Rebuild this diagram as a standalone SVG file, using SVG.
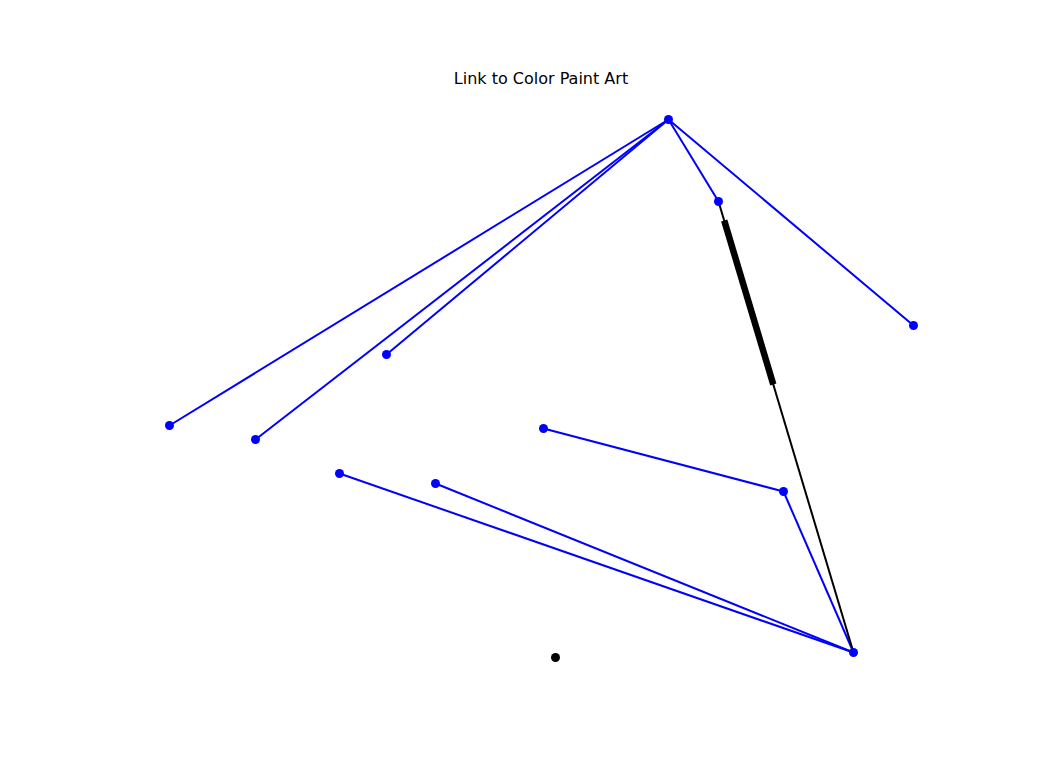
<svg xmlns="http://www.w3.org/2000/svg" width="1056" height="768" viewBox="0 0 1056 768">
<style>
.e{stroke:#0000ff;stroke-width:2;fill:none}
.k{stroke:#000000;stroke-width:2;fill:none}
.n{fill:#0000ff}
.t{font-family:"DejaVu Sans",sans-serif;font-size:16px;fill:#000}
</style>
<rect width="1056" height="768" fill="#ffffff"/>
<text class="t" x="541" y="84" text-anchor="middle">Link to Color Paint Art</text>
<g id="connectors">
<line class="e" x1="668.5" y1="119.5" x2="169.5" y2="425.5"/>
<line class="e" x1="668.5" y1="119.5" x2="255.5" y2="439.5"/>
<line class="e" x1="668.5" y1="119.5" x2="386.5" y2="354.5"/>
<line class="e" x1="668.5" y1="119.5" x2="718.5" y2="201.5"/>
<line class="e" x1="668.5" y1="119.5" x2="913.5" y2="325.5"/>
<line class="e" x1="543.5" y1="428.5" x2="783.5" y2="491.5"/>
<line class="e" x1="783.5" y1="491.5" x2="853.5" y2="652.5"/>
<line class="e" x1="339.5" y1="473.5" x2="853.5" y2="652.5"/>
<line class="e" x1="435.5" y1="483.5" x2="853.5" y2="652.5"/>
<line class="k" x1="718.5" y1="201.5" x2="853.5" y2="652.5"/>
<line stroke="#000" stroke-width="6.5" x1="724.2" y1="220.5" x2="773.3" y2="384.5"/>
</g>
<g id="n0"><circle class="n" cx="668.5" cy="119.5" r="4.5"/></g>
<g id="n1"><circle class="n" cx="718.5" cy="201.5" r="4.5"/></g>
<g id="n2"><circle class="n" cx="913.5" cy="325.5" r="4.5"/></g>
<g id="n3"><circle class="n" cx="386.5" cy="354.5" r="4.5"/></g>
<g id="n4"><circle class="n" cx="169.5" cy="425.5" r="4.5"/></g>
<g id="n5"><circle class="n" cx="255.5" cy="439.5" r="4.5"/></g>
<g id="n6"><circle class="n" cx="543.5" cy="428.5" r="4.5"/></g>
<g id="n7"><circle class="n" cx="783.5" cy="491.5" r="4.5"/></g>
<g id="n8"><circle class="n" cx="339.5" cy="473.5" r="4.5"/></g>
<g id="n9"><circle class="n" cx="435.5" cy="483.5" r="4.5"/></g>
<g id="n10"><circle class="n" cx="853.5" cy="652.5" r="4.5"/></g>
<g id="n11"><circle fill="#000" cx="555.5" cy="657.5" r="4.5"/></g>
</svg>
